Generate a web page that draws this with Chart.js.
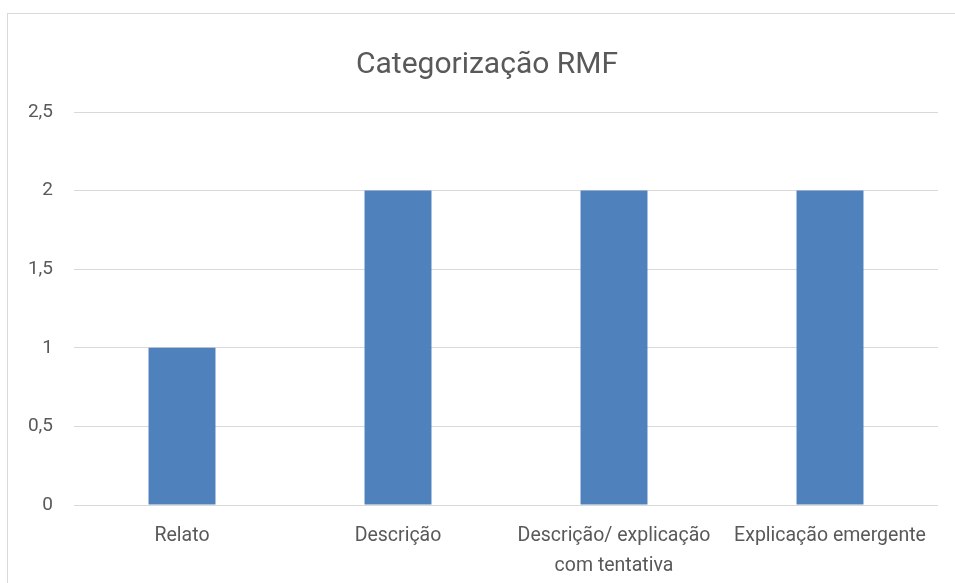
<!DOCTYPE html>
<html>
<head>
<meta charset="utf-8">
<script src="https://cdn.jsdelivr.net/npm/chart.js@4"></script>
<style>
  html, body { margin: 0; padding: 0; background: #ffffff; }
  body { width: 955px; height: 583px; overflow: hidden; position: relative; }
  .frame {
    position: absolute; left: 7px; top: 13px; width: 980px; height: 600px;
    border: 1px solid #d9d9d9; box-sizing: border-box;
  }
  .wrap { position: absolute; left: 0; top: 0; width: 955px; height: 583px; }
</style>
</head>
<body>
<div class="frame"></div>
<div class="wrap"><canvas id="c" width="955" height="583"></canvas></div>
<script>
const categories = ["Relato", "Descrição", ["Descrição/ explicação", "com tentativa"], "Explicação emergente"];
const values = [1, 2, 2, 2];
const yTicks = [0, 0.5, 1, 1.5, 2, 2.5];
const titleText = "Categorização RMF";

const textColor = "#595959";
const fontFamily = "Roboto, 'Liberation Sans', sans-serif";

// Title centred on the framed chart box rather than on the plot area
const frameTitle = {
  id: "frameTitle",
  afterDraw(chart) {
    const ctx = chart.ctx;
    ctx.save();
    ctx.fillStyle = textColor;
    ctx.font = "normal 30px " + fontFamily;
    ctx.textAlign = "center";
    ctx.textBaseline = "middle";
    ctx.fillText(titleText, 487, 65);
    ctx.restore();
  }
};

new Chart(document.getElementById("c"), {
  type: "bar",
  data: {
    labels: categories,
    datasets: [{
      label: "RMF",
      data: values,
      backgroundColor: "#4f81bd",
      borderWidth: 0,
      categoryPercentage: 1,
      barPercentage: 0.31
    }]
  },
  options: {
    responsive: false,
    animation: false,
    layout: { padding: { left: 0, right: 17, top: 112, bottom: 0 } },
    plugins: {
      legend: { display: false },
      tooltip: { enabled: false },
      title: { display: false }
    },
    scales: {
      x: {
        grid: { display: false },
        border: { display: false },
        ticks: {
          color: textColor,
          font: { family: fontFamily, size: 19.5, lineHeight: 1.55 },
          padding: 8,
          maxRotation: 0,
          autoSkip: false
        },
        afterFit: (s) => { s.height = 78; }
      },
      y: {
        min: 0,
        max: 2.5,
        afterBuildTicks: (s) => { s.ticks = yTicks.map(v => ({ value: v })); },
        grid: { color: "#d9d9d9", lineWidth: 1, drawTicks: false },
        border: { display: false },
        ticks: {
          color: textColor,
          font: { family: fontFamily, size: 19 },
          padding: 21,
          callback: (v) => String(v).replace(".", ",")
        },
        afterFit: (s) => { s.width = 74; }
      }
    }
  },
  plugins: [frameTitle]
});
</script>
</body>
</html>
